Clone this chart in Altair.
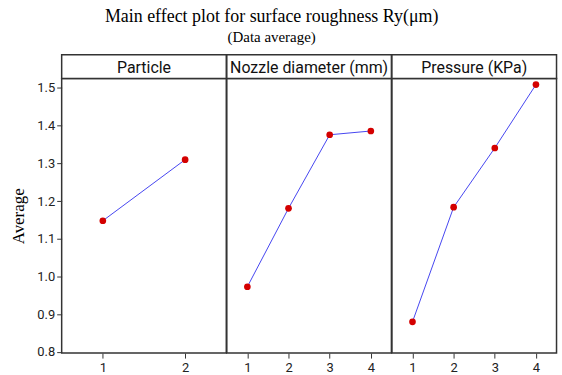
import altair as alt
import pandas as pd

# ---- data ----
particle_levels = [1, 2]
particle_avg = [1.148, 1.310]

nozzle_levels = [1, 2, 3, 4]
nozzle_avg = [0.973, 1.181, 1.376, 1.386]

pressure_levels = [1, 2, 3, 4]
pressure_avg = [0.880, 1.184, 1.341, 1.509]

panel_names = ["Particle", "Nozzle diameter (mm)", "Pressure (KPa)"]
y_ticks = [0.8, 0.9, 1.0, 1.1, 1.2, 1.3, 1.4, 1.5]

W, H, HDR = 165.5, 276, 24
FRAME = "#333333"
NARROW = "Roboto, Liberation Sans, sans-serif"
SERIF = "Liberation Serif, Times New Roman, serif"


def panel(name, xs, ys, show_y):
    df = pd.DataFrame({"level": xs, "avg": ys})
    dom = [0.5, len(xs) + 0.5]
    x = alt.X(
        "level:Q",
        scale=alt.Scale(domain=dom, nice=False, zero=False),
        axis=alt.Axis(values=xs, format="d", title=None, grid=False, domain=False,
                      tickColor=FRAME, tickSize=5, labelFont=NARROW, labelFontSize=13,
                      labelColor="#222", labelPadding=3),
    )
    if show_y:
        yaxis = alt.Axis(values=y_ticks, format=".1f", title="Average", grid=False,
                         domain=False, tickColor=FRAME, tickSize=5, labelFont=NARROW,
                         labelFontSize=13, labelColor="#222", labelPadding=2,
                         titleFont=SERIF, titleFontSize=17, titleFontWeight="normal",
                         titleColor="#000", titlePadding=9)
    else:
        yaxis = None
    y = alt.Y("avg:Q", scale=alt.Scale(domain=[0.797, 1.525], nice=False, zero=False),
              axis=yaxis)
    base = alt.Chart(df)
    line = base.mark_line(color="#4646f0", strokeWidth=1).encode(x=x, y=y)
    pts = base.mark_circle(color="#d40000", size=45, opacity=1).encode(x=x, y=y)
    hdf = pd.DataFrame({"f": [name]})
    hrect = alt.Chart(hdf).mark_rect(fill="white", stroke=FRAME, strokeWidth=1.5, clip=False).encode(
        x=alt.value(0), x2=alt.value(W), y=alt.value(-HDR), y2=alt.value(0))
    htext = alt.Chart(hdf).mark_text(font=NARROW, fontSize=16, color="#111", baseline="middle",
                                     clip=False).encode(
        x=alt.value(W / 2), y=alt.value(-HDR / 2 + 1), text="f:N")
    return alt.layer(hrect, htext, line, pts).properties(width=W, height=H)


chart = alt.hconcat(
    panel(panel_names[0], particle_levels, particle_avg, True),
    panel(panel_names[1], nozzle_levels, nozzle_avg, False),
    panel(panel_names[2], pressure_levels, pressure_avg, False),
    spacing=0,
    bounds="flush",
).properties(
    title=alt.TitleParams(
        text="Main effect plot for surface roughness Ry(μm)",
        subtitle="(Data average)",
        font=SERIF, fontSize=18, fontWeight="normal", color="#000",
        subtitleFont=SERIF, subtitleFontSize=15, subtitleColor="#000",
        anchor="middle", offset=8, subtitlePadding=4, dx=-12,
    ),
    padding={"left": 9, "top": 7, "right": 4, "bottom": 0},
).configure_view(stroke=FRAME, strokeWidth=1.5).configure_concat(spacing=0)

chart.save("out.html", embed_options={"renderer": "svg", "actions": False})
